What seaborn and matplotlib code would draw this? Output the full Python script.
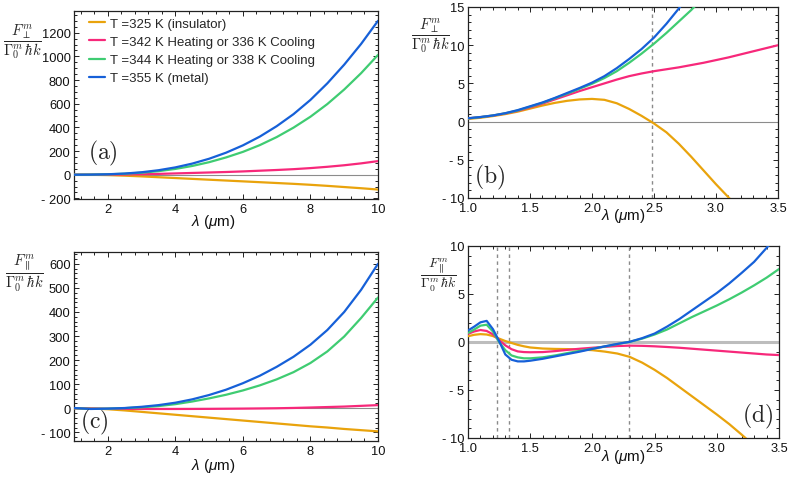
import numpy as np
import pandas as pd
import matplotlib
matplotlib.use("Agg")
import matplotlib.pyplot as plt
import seaborn as sns
from matplotlib.ticker import MultipleLocator, FuncFormatter
from matplotlib.lines import Line2D

nan = np.nan
series = ["T =325 K (insulator)", "T =342 K Heating or 336 K Cooling",
          "T =344 K Heating or 338 K Cooling", "T =355 K (metal)"]
colors = ["#E9A30C", "#F7287A", "#3FCC72", "#1660D8"]

# panels (a) and (c): wide wavelength range
lam_wide = [1, 1.5, 2, 2.5, 3, 3.5, 4, 4.5, 5, 5.5, 6, 6.5, 7, 7.5, 8, 8.5, 9, 9.5, 10]
a_325 = [0, -0.5, -3, -8, -14, -21, -28, -35, -42, -49, -56, -63, -70, -77, -85, -94, -104, -114, -125]
a_342 = [0, 0.3, 1, 2, 4, 7, 11, 15, 19, 23, 28, 34, 40, 47, 56, 67, 80, 96, 115]
a_344 = [0, 1, 3.5, 8.5, 17, 30, 49, 74, 106, 146, 193, 250, 318, 398, 490, 597, 720, 858, 1012]
a_355 = [0, 1, 4, 10, 21, 38, 62, 94, 135, 186, 248, 322, 410, 512, 632, 772, 930, 1105, 1300]

c_325 = [0, -1, -4, -9, -15, -21, -27, -33, -39, -45, -51, -57, -63, -69, -75, -80, -86, -91, -96]
c_342 = [0, -1, -2, -2.6, -3, -3, -3, -2.8, -2.5, -2, -1.5, -0.8, 0, 1.3, 3, 5, 7, 10, 13]
c_344 = [0.5, -2.5, -1.5, 0.5, 4, 9, 17, 28, 41, 56, 74, 95, 120, 150, 188, 236, 298, 375, 460]
c_355 = [1, -3, -1.5, 1, 6, 13, 23, 37, 55, 77, 104, 135, 172, 214, 264, 325, 400, 492, 600]

# panel (b)
lam_b = [1.0, 1.1, 1.2, 1.3, 1.4, 1.5, 1.6, 1.7, 1.8, 1.9, 2.0, 2.1, 2.2, 2.3, 2.4,
         2.5, 2.6, 2.7, 2.8, 2.9, 3.0, 3.1, 3.2, 3.3, 3.4, 3.5]
b_325 = [0.35, 0.5, 0.72, 0.98, 1.3, 1.7, 2.1, 2.45, 2.72, 2.9, 2.97, 2.85, 2.4, 1.65, 0.75,
         -0.25, -1.4, -2.9, -4.6, -6.4, -8.2, -9.9, -11.6, nan, nan, nan]
b_342 = [0.42, 0.58, 0.78, 1.05, 1.4, 1.85, 2.35, 2.9, 3.45, 4.0, 4.5, 5.0, 5.5, 5.95, 6.3,
         6.6, 6.85, 7.1, 7.4, 7.7, 8.05, 8.4, 8.8, 9.2, 9.6, 10.0]
b_344 = [0.42, 0.58, 0.8, 1.08, 1.45, 1.95, 2.45, 3.05, 3.65, 4.3, 4.95, 5.7, 6.6, 7.7, 8.9,
         10.2, 11.6, 13.1, 14.6, 16.3, nan, nan, nan, nan, nan, nan]
b_355 = [0.44, 0.6, 0.8, 1.1, 1.5, 2.0, 2.5, 3.1, 3.75, 4.4, 5.1, 5.95, 7.0, 8.2, 9.5,
         11.0, 12.8, 14.8, 17.0, nan, nan, nan, nan, nan, nan, nan]
b_vlines = [2.48]

# panel (d)
lam_d = [1.0, 1.05, 1.1, 1.15, 1.2, 1.25, 1.3, 1.35, 1.4, 1.45, 1.5, 1.6, 1.7, 1.8, 1.9, 2.0,
         2.1, 2.2, 2.3, 2.4, 2.5, 2.6, 2.7, 2.8, 2.9, 3.0, 3.1, 3.2, 3.3, 3.4, 3.5]
d_325 = [0.6, 0.75, 0.82, 0.78, 0.62, 0.35, 0.1, -0.1, -0.3, -0.45, -0.57, -0.68, -0.72, -0.74,
         -0.78, -0.85, -1.0, -1.2, -1.55, -2.15, -2.9, -3.75, -4.7, -5.65, -6.6, -7.55, -8.55,
         -9.65, -10.8, nan, nan]
d_342 = [0.85, 1.1, 1.25, 1.15, 0.8, 0.2, -0.35, -0.75, -0.98, -1.05, -1.07, -1.05, -0.95, -0.82,
         -0.7, -0.6, -0.5, -0.42, -0.38, -0.4, -0.45, -0.52, -0.6, -0.7, -0.8, -0.9, -1.0, -1.1,
         -1.2, -1.3, -1.36]
d_344 = [0.95, 1.3, 1.7, 1.8, 1.1, 0.0, -0.85, -1.4, -1.6, -1.7, -1.7, -1.6, -1.4, -1.15, -0.92,
         -0.7, -0.47, -0.22, 0.02, 0.35, 0.78, 1.3, 1.95, 2.6, 3.2, 3.8, 4.45, 5.15, 5.9, 6.7, 7.6]
d_355 = [1.2, 1.6, 2.05, 2.2, 1.35, 0.1, -1.3, -1.85, -2.02, -2.02, -1.95, -1.75, -1.5, -1.25,
         -1.0, -0.72, -0.45, -0.2, 0.02, 0.4, 0.88, 1.6, 2.4, 3.3, 4.2, 5.1, 6.1, 7.2, 8.35, 9.8, 11.3]
d_vlines = [1.236, 1.33, 2.296]

sns.set_theme(style="ticks")
plt.rcParams["font.family"] = ["Liberation Sans", "DejaVu Sans"]
plt.rcParams["mathtext.fontset"] = "custom"
plt.rcParams["mathtext.it"] = "Liberation Sans:italic"
plt.rcParams["mathtext.rm"] = "Liberation Sans"

fig = plt.figure(figsize=(7.89, 4.81), dpi=100)
W, H = 789.0, 481.0


def add_ax(l, r, t, b):
    return fig.add_axes([l / W, 1 - b / H, (r - l) / W, (b - t) / H])


axa = add_ax(74, 378, 12, 200)
axb = add_ax(468, 778, 8, 199)
axc = add_ax(74, 378, 253, 442)
axd = add_ax(468, 779, 247, 439)


def neg_fmt(dec):
    def f(v, p):
        s = f"{abs(v):.{dec}f}"
        return f"- {s}" if v < -1e-9 else s
    return FuncFormatter(f)


def draw(ax, lam, ys, xlim, ylim, xmaj, xmin, ymaj, ymin, xdec, zero_style, vlines):
    frames = []
    for name, y in zip(series, ys):
        frames.append(pd.DataFrame({"lam": lam, "F": y, "series": name}))
    df = pd.concat(frames).dropna()
    ax.axhline(0, **zero_style, zorder=1)
    for v in vlines:
        ax.axvline(v, color="#8a8a8a", lw=1.0, ls=(0, (2.5, 2.5)), zorder=1)
    sns.lineplot(data=df, x="lam", y="F", hue="series", hue_order=series,
                 palette=dict(zip(series, colors)), lw=1.6, legend=False, ax=ax,
                 sort=True, estimator=None, zorder=3)
    ax.set_xlim(*xlim)
    ax.set_ylim(*ylim)
    ax.xaxis.set_major_locator(MultipleLocator(xmaj))
    ax.xaxis.set_minor_locator(MultipleLocator(xmin))
    ax.yaxis.set_major_locator(MultipleLocator(ymaj))
    ax.yaxis.set_minor_locator(MultipleLocator(ymin))
    ax.xaxis.set_major_formatter(neg_fmt(xdec))
    ax.yaxis.set_major_formatter(neg_fmt(0))
    ax.tick_params(which="both", direction="in", top=True, right=True, color="#222222",
                   width=0.7, labelsize=9.3, labelcolor="#111111")
    ax.tick_params(which="major", length=3.8)
    ax.tick_params(which="minor", length=2.0)
    ax.tick_params(axis="y", pad=2.5)
    ax.tick_params(axis="x", pad=3.0)
    for s in ax.spines.values():
        s.set_color("#222222")
        s.set_linewidth(0.9)
    ax.set_xlabel("")
    ax.set_ylabel("")


thin_zero = dict(color="#8c8c8c", lw=0.8)
thick_zero = dict(color="#bdbdbd", lw=2.2)

draw(axa, lam_wide, [a_325, a_342, a_344, a_355], (1, 10), (-205, 1383), 2, 0.4, 200, 50, 0, thin_zero, [])
draw(axb, lam_b, [b_325, b_342, b_344, b_355], (1, 3.5), (-10, 15), 0.5, 0.1, 5, 1, 1, thin_zero, b_vlines)
draw(axc, lam_wide, [c_325, c_342, c_344, c_355], (1, 10), (-136, 649), 2, 0.4, 100, 20, 0, thin_zero, [])
draw(axd, lam_d, [d_325, d_342, d_344, d_355], (1, 3.5), (-10, 10), 0.5, 0.1, 5, 1, 1, thick_zero, d_vlines)

# x labels
xl = r"$\lambda$ ($\mu$m)"
for ax, xc, yc in [(axa, 0.457, -0.115), (axb, 0.5, -0.09), (axc, 0.46, -0.127), (axd, 0.5, -0.092)]:
    ax.text(xc, yc, xl, transform=ax.transAxes, ha="center", va="center", fontsize=11, color="#111111")

# y labels (fractions)
perp = r"$\dfrac{F_{\perp}^{m}}{\Gamma_0^{m}\,\hbar k}$"
para = r"$\dfrac{F_{\parallel}^{m}}{\Gamma_0^{m}\,\hbar k}$"
for (x, y, s, fs) in [(22, 42, perp, 10.5), (430, 36, perp, 10.5), (24, 273, para, 10.5),
                      (438, 275, para, 10.0)]:
    fig.text(x / W, 1 - y / H, s, ha="center", va="center", fontsize=fs, math_fontfamily="cm")

# panel labels
for ax, s, x, y in [(axa, "(a)", 0.094, 0.25), (axb, "(b)", 0.068, 0.115),
                    (axc, "(c)", 0.066, 0.106), (axd, "(d)", 0.931, 0.12)]:
    ax.text(x, y, r"$\mathrm{" + s + "}$", transform=ax.transAxes, ha="center", va="center",
            fontsize=17, math_fontfamily="cm", zorder=5)

# legend
handles = [Line2D([0], [0], color=c, lw=1.6) for c in colors]
axa.legend(handles, series, loc="upper left", bbox_to_anchor=(0.049, 0.965), frameon=False,
           fontsize=9.5, handlelength=1.2, handletextpad=0.4, labelspacing=0.45,
           borderpad=0, borderaxespad=0)

fig.savefig("out.png", dpi=100)
